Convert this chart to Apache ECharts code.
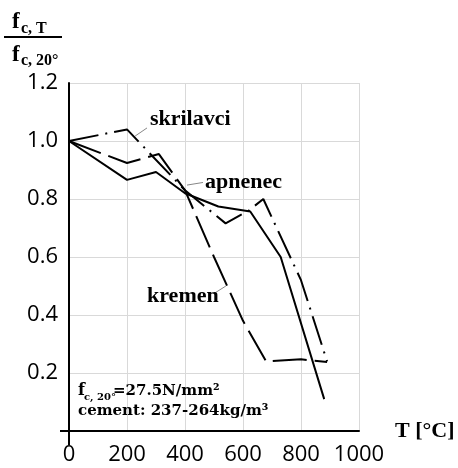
<!DOCTYPE html>
<html><head><meta charset="utf-8">
<script src="https://cdn.jsdelivr.net/npm/echarts@6/dist/echarts.min.js"></script>
<style>html,body{margin:0;padding:0;background:#fff}#c{width:458px;height:468px}</style>
</head><body><div id="c"></div>
<script>
// ---- data ----
const xTickLabels = ['0', '200', '400', '600', '800', '1000'];
const yTickLabels = ['', '0.2', '0.4', '0.6', '0.8', '1.0', '1.2'];

const skrilavciT = [0, 200, 400, 540, 620, 670, 800, 890];
const skrilavciV = [1.0, 1.04, 0.83, 0.716, 0.76, 0.80, 0.52, 0.24];

const apnenecT = [0, 200, 300, 400, 515, 625, 730, 880];
const apnenecV = [1.0, 0.866, 0.893, 0.82, 0.774, 0.757, 0.60, 0.11];

const kremenT = [0, 200, 310, 400, 500, 600, 680, 800, 890];
const kremenV = [1.0, 0.924, 0.955, 0.83, 0.60, 0.38, 0.24, 0.247, 0.238];

// label anchor positions (data coords): [text x, text y, leader from x, y, leader to x, y]
const labelNames = ['skrilavci', 'apnenec', 'kremen'];
const labelPos = [
  [279, 1.076, 228, 1.017, 269, 1.045],
  [469, 0.859, 407, 0.848, 462, 0.857],
  [269, 0.466, 541, 0.50, 503, 0.476]
];

const pairs = (xs, ys) => xs.map((x, i) => [x, ys[i]]);

const chart = echarts.init(document.getElementById('c'), null, {renderer: 'canvas'});
const serif = 'Liberation Serif';
const lineBase = {type: 'line', symbol: 'none', smooth: false, silent: true, z: 5};

chart.setOption({
  animation: false,
  backgroundColor: '#fff',
  grid: {left: 69, right: 99, top: 83, bottom: 37, containLabel: false},
  xAxis: {
    type: 'value', min: 0, max: 1000, interval: 200,
    axisLine: {show: true, onZero: false, lineStyle: {color: '#000', width: 2}},
    axisTick: {show: false},
    axisLabel: {show: true, fontFamily: 'Open Sans', fontSize: 22, color: '#000', margin: 13,
      formatter: (v) => xTickLabels[Math.round(v / 200)]},
    splitLine: {show: true, lineStyle: {color: '#d9d9d9', width: 1}},
    name: 'T [°C]', nameLocation: 'end', nameGap: 36,
    nameTextStyle: {fontFamily: serif, fontWeight: 'bold', fontSize: 22, color: '#000', verticalAlign: 'middle'}
  },
  yAxis: {
    type: 'value', min: 0, max: 1.2, interval: 0.2,
    axisLine: {show: true, onZero: false, lineStyle: {color: '#000', width: 2}},
    axisTick: {show: false},
    axisLabel: {show: true, fontFamily: 'Open Sans', fontSize: 22, color: '#000', margin: 11,
      formatter: (v) => yTickLabels[Math.round(v / 0.2)]},
    splitLine: {show: true, lineStyle: {color: '#d9d9d9', width: 1}}
  },
  series: [
    Object.assign({}, lineBase, {name: 'skrilavci', data: pairs(skrilavciT, skrilavciV),
      lineStyle: {color: '#000', width: 2, type: [30, 7, 2, 7]}}),
    Object.assign({}, lineBase, {name: 'apnenec', data: pairs(apnenecT, apnenecV),
      lineStyle: {color: '#000', width: 2, type: 'solid'}}),
    Object.assign({}, lineBase, {name: 'kremen', data: pairs(kremenT, kremenV),
      lineStyle: {color: '#000', width: 2, type: [34, 8]}})
  ]
});

// annotations
const g = [];
labelPos.forEach((p, i) => {
  const t = chart.convertToPixel({gridIndex: 0}, [p[0], p[1]]);
  const a = chart.convertToPixel({gridIndex: 0}, [p[2], p[3]]);
  const b = chart.convertToPixel({gridIndex: 0}, [p[4], p[5]]);
  g.push({type: 'line', shape: {x1: a[0], y1: a[1], x2: b[0], y2: b[1]},
    style: {stroke: '#888', lineWidth: 1}, z: 10});
  g.push({type: 'text', x: t[0], y: t[1], z: 11,
    style: {text: labelNames[i], font: 'bold 22px "' + serif + '"', fill: '#000',
      align: 'left', verticalAlign: 'middle'}});
});

// axis cross extensions at the origin
const o = chart.convertToPixel({gridIndex: 0}, [0, 0]);
g.push({type: 'line', shape: {x1: o[0], y1: o[1], x2: o[0], y2: o[1] + 14}, style: {stroke: '#000', lineWidth: 2}});
g.push({type: 'line', shape: {x1: o[0] - 9, y1: o[1], x2: o[0], y2: o[1]}, style: {stroke: '#000', lineWidth: 2}});

// y-axis title as a fraction
g.push({type: 'text', x: 12, y: 21.6, style: {text: 'f', font: 'bold 23px "' + serif + '"', fill: '#000', verticalAlign: 'middle'}});
g.push({type: 'text', x: 21, y: 28.5, style: {text: 'c, T', font: 'bold 16px "' + serif + '"', fill: '#000', verticalAlign: 'middle'}});
g.push({type: 'line', shape: {x1: 4, y1: 37, x2: 62, y2: 37}, style: {stroke: '#000', lineWidth: 2}});
g.push({type: 'text', x: 12, y: 54.6, style: {text: 'f', font: 'bold 23px "' + serif + '"', fill: '#000', verticalAlign: 'middle'}});
g.push({type: 'text', x: 21, y: 61, style: {text: 'c, 20°', font: 'bold 16px "' + serif + '"', fill: '#000', verticalAlign: 'middle'}});

// bottom-left annotation
const annFont = '"DejaVu Serif"';
g.push({type: 'text', x: 78, y: 391, style: {text: 'f', font: 'bold 16px ' + annFont, fill: '#000', verticalAlign: 'middle'}});
g.push({type: 'text', x: 84, y: 397, style: {text: 'c, 20°', font: 'bold 10px ' + annFont, fill: '#000', verticalAlign: 'middle'}});
g.push({type: 'text', x: 113, y: 391, style: {text: '=27.5N/mm²', font: 'bold 15px ' + annFont, fill: '#000', verticalAlign: 'middle'}});
g.push({type: 'text', x: 78, y: 411, style: {text: 'cement: 237-264kg/m³', font: 'bold 15px ' + annFont, fill: '#000', verticalAlign: 'middle'}});

chart.setOption({graphic: g});
</script>
</body></html>
